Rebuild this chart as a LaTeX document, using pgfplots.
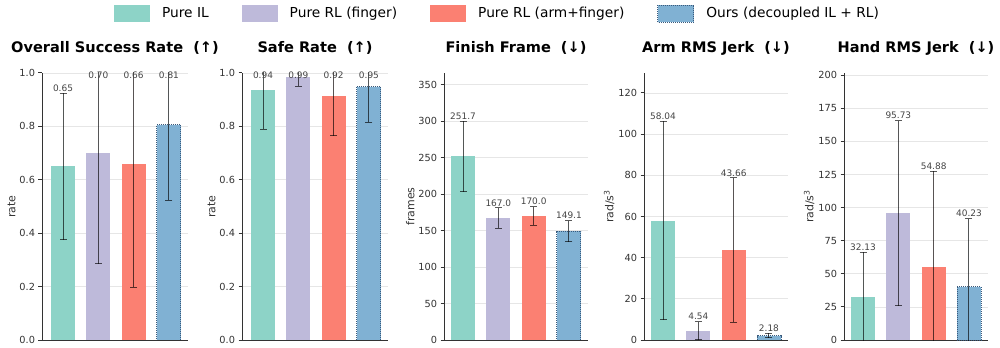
\documentclass[border=0pt]{standalone}
\usepackage{fontspec}
\setmainfont{DejaVu Sans}
\usepackage{pgfplots}
\pgfplotsset{compat=1.18}
\definecolor{cIL}{HTML}{8DD3C7}
\definecolor{cRLf}{HTML}{BEBADA}
\definecolor{cRLaf}{HTML}{FB8072}
\definecolor{cOurs}{HTML}{80B1D3}
\definecolor{cOursEdge}{HTML}{3A5A7C}
\definecolor{spine}{HTML}{333333}
\definecolor{gridc}{HTML}{E6E6E6}
\definecolor{vlab}{HTML}{444444}
\pgfplotsset{
  panel/.style={
    scale only axis, width=144bp, height=267bp, anchor=south west,
    ymin=0, xmin=-0.54, xmax=3.54,
    xtick=\empty,
    axis x line*=bottom, axis y line*=left,
    axis line style={draw=spine, line width=1bp, -},
    ytick pos=left, tick align=outside, major tick length=3.5bp,
    every tick/.style={draw=spine, line width=1bp},
    ymajorgrids, grid style={draw=gridc, line width=0.8bp},
    tick label style={font=\fontsize{9.8}{11}\selectfont, text=spine},
    /pgf/number format/assume math mode=true,
    ylabel style={font=\fontsize{11}{13}\selectfont, text=spine, yshift=-3bp},
    title style={font=\bfseries\fontsize{14.6}{17}\selectfont, at={(0.5,1)}, anchor=base, yshift=15bp},
    clip mode=individual,
  },
  ratepanel/.style={panel, ymax=1, ytick={0,0.2,0.4,0.6,0.8,1.0},
    yticklabel style={/pgf/number format/.cd, fixed, fixed zerofill, precision=1}},
  mybar/.style={ybar, bar width=0.68, bar shift=0pt, draw=none, fill=#1, forget plot,
    error bars/y dir=both, error bars/y explicit,
    error bars/error bar style={solid, draw=black, draw opacity=0.65, line width=1bp},
    error bars/error mark options={solid, rotate=90, mark size=3.5bp, draw=black, draw opacity=0.65, line width=1bp}},
  oursedge/.style={draw=cOursEdge, dash pattern=on 1bp off 1bp, line width=0.9bp},
  vlabels/.style={draw=none, mark=none, forget plot, nodes near coords, point meta=explicit symbolic,
    nodes near coords style={anchor=south, inner sep=1.5bp, font=\fontsize{9}{10}\selectfont, text=vlab}},
}
\begin{document}
\begin{tikzpicture}
\path[use as bounding box] (0,0) rectangle (1000bp,348bp);

% Panel 1
\begin{axis}[ratepanel, at={(42bp,8bp)}, width=146bp, xmin=-0.595,
  title={Overall Success Rate~~(↑)}, ylabel={rate}]
\addplot[mybar=cIL] coordinates {(0,0.65) +- (0,0.275)};
\addplot[mybar=cRLf] coordinates {(1,0.70) +- (0,0.415)};
\addplot[mybar=cRLaf] coordinates {(2,0.66) +- (0,0.463)};
\addplot[mybar=cOurs, oursedge] coordinates {(3,0.806) +- (0,0.282)};
\addplot[vlabels] coordinates {(0,0.925)[0.65] (1,0.972)[0.70] (2,0.972)[0.66] (3,0.972)[0.81]};
\end{axis}

% Panel 2
\begin{axis}[ratepanel, at={(242bp,8bp)}, width=146bp, xmin=-0.595,
  title={Safe Rate~~(↑)}, ylabel={rate}]
\addplot[mybar=cIL] coordinates {(0,0.936) +- (0,0.147)};
\addplot[mybar=cRLf] coordinates {(1,0.985) +- (0,0.035)};
\addplot[mybar=cRLaf] coordinates {(2,0.915) +- (0,0.150)};
\addplot[mybar=cOurs, oursedge] coordinates {(3,0.949) +- (0,0.134)};
\addplot[vlabels] coordinates {(0,0.972)[0.94] (1,0.972)[0.99] (2,0.972)[0.92] (3,0.972)[0.95]};
\end{axis}

% Panel 3
\begin{axis}[panel, at={(444bp,8bp)}, ymax=366, ytick={0,50,100,150,200,250,300,350},
  title={Finish Frame~~(↓)}, ylabel={frames},
  legend columns=4,
  legend image code/.code={\path[#1] (0bp,-8.5bp) rectangle (36bp,8.5bp);},
  legend style={at={(0.3646,1.2228)}, anchor=center, draw=none, fill=none,
    font=\fontsize{13.8}{16}\selectfont, nodes={inner sep=0pt},
    /tikz/every odd column/.append style={column sep=12bp},
    /tikz/every even column/.append style={column sep=33bp}}]
\addplot[mybar=cIL] coordinates {(0,251.7) +- (0,48.3)};
\addplot[mybar=cRLf] coordinates {(1,167.0) +- (0,14.0)};
\addplot[mybar=cRLaf] coordinates {(2,170.0) +- (0,12.8)};
\addplot[mybar=cOurs, oursedge] coordinates {(3,149.1) +- (0,14.6)};
\addplot[vlabels] coordinates {(0,300)[251.7] (1,181)[167.0] (2,182.8)[170.0] (3,163.7)[149.1]};
\addlegendimage{fill=cIL, draw=none}
\addlegendentry{Pure IL}
\addlegendimage{fill=cRLf, draw=none}
\addlegendentry{Pure RL (finger)}
\addlegendimage{fill=cRLaf, draw=none}
\addlegendentry{Pure RL (arm+finger)}
\addlegendimage{fill=cOurs, draw=cOursEdge, dash pattern=on 1bp off 1bp, line width=0.9bp}
\addlegendentry{Ours (decoupled IL + RL)}
\end{axis}

% Panel 4
\begin{axis}[panel, at={(644bp,8bp)}, ymax=129.7, ytick={0,20,40,60,80,100,120},
  title={Arm RMS Jerk~~(↓)}, ylabel={rad/s\textsuperscript{3}}]
\addplot[mybar=cIL] coordinates {(0,58.04) +- (0,48.2)};
\addplot[mybar=cRLf] coordinates {(1,4.54) +- (0,4.4)};
\addplot[mybar=cRLaf] coordinates {(2,43.66) +- (0,35.1)};
\addplot[mybar=cOurs, oursedge] coordinates {(3,2.18) +- (0,1.0)};
\addplot[vlabels] coordinates {(0,106.24)[58.04] (1,8.94)[4.54] (2,78.76)[43.66] (3,3.18)[2.18]};
\end{axis}

% Panel 5
\begin{axis}[panel, at={(844bp,8bp)}, ymax=201.7, ytick={0,25,50,75,100,125,150,175,200},
  title={Hand RMS Jerk~~(↓)}, ylabel={rad/s\textsuperscript{3}}]
\addplot[mybar=cIL] coordinates {(0,32.13) +- (0,34.0)};
\addplot[mybar=cRLf] coordinates {(1,95.73) +- (0,69.9)};
\addplot[mybar=cRLaf] coordinates {(2,54.88) +- (0,72.6)};
\addplot[mybar=cOurs, oursedge] coordinates {(3,40.23) +- (0,51.4)};
\addplot[vlabels] coordinates {(0,66.13)[32.13] (1,165.63)[95.73] (2,127.48)[54.88] (3,91.63)[40.23]};
\end{axis}
\end{tikzpicture}
\end{document}
